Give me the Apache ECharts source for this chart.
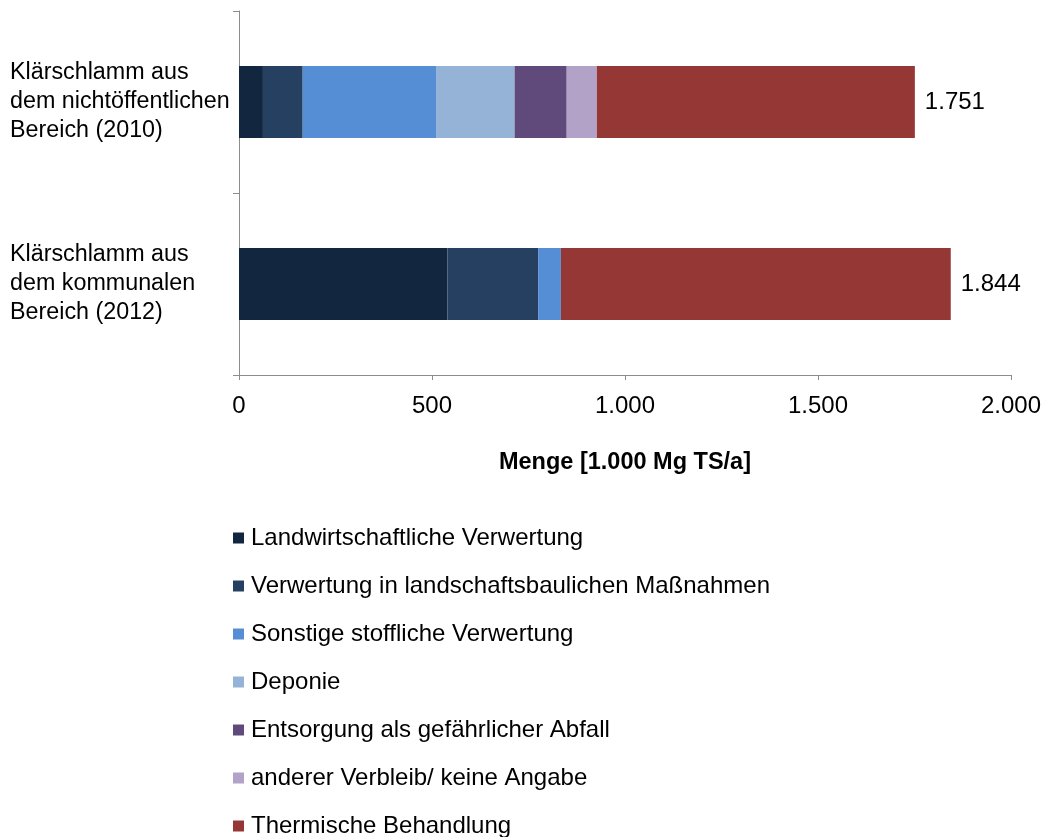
<!DOCTYPE html>
<html>
<head>
<meta charset="utf-8">
<script src="https://cdn.jsdelivr.net/npm/echarts@6/dist/echarts.min.js"></script>
<style>
  html, body { margin: 0; padding: 0; background: #ffffff; }
  #chart { width: 1044px; height: 837px; }
</style>
</head>
<body>
<div id="chart"></div>
<script>
// Kategorien (von unten nach oben, wie die y-Achse sie zeichnet)
const categories = [
  'Klärschlamm aus\ndem kommunalen\nBereich (2012)',
  'Klärschlamm aus\ndem nichtöffentlichen\nBereich (2010)'
]
const seriesNames = [
  'Landwirtschaftliche Verwertung',
  'Verwertung in landschaftsbaulichen Maßnahmen',
  'Sonstige stoffliche Verwertung',
  'Deponie',
  'Entsorgung als gefährlicher Abfall',
  'anderer Verbleib/ keine Angabe',
  'Thermische Behandlung'
]
// Werte [kommunal 2012, nichtöffentlich 2010] in 1.000 Mg TS/a
const landwirtschaft = [540, 62]
const landschaftsbau = [235, 103]
const sonstigeStofflich = [59, 347]
const deponie = [0, 202]
const gefaehrlich = [0, 135]
const andererVerbleib = [0, 78]
const thermisch = [1010, 824]
const totals = [1844, 1751]
const xTicks = [0, 500, 1000, 1500, 2000]

const colors = ['#12263F', '#254061', '#558ED5', '#95B3D7', '#604A7B', '#B3A2C7', '#953735']
const values = [landwirtschaft, landschaftsbau, sonstigeStofflich, deponie, gefaehrlich, andererVerbleib, thermisch]

// deutsches Zahlenformat mit Tausenderpunkt
function fmt (v) {
  return String(v).replace(/\B(?=(\d{3})+(?!\d))/g, '.')
}

const font = 'Liberation Sans, Arial, sans-serif'

const chart = echarts.init(document.getElementById('chart'))
chart.setOption({
  animation: false,
  color: colors,
  grid: {
    left: 239,
    right: 33,
    top: 11,
    bottom: 462,
    containLabel: false
  },
  xAxis: {
    type: 'value',
    min: xTicks[0],
    max: xTicks[xTicks.length - 1],
    interval: 500,
    name: 'Menge [1.000 Mg TS/a]',
    nameLocation: 'middle',
    nameGap: 76,
    nameTextStyle: { fontFamily: font, fontSize: 23.5, fontWeight: 'bold', color: '#000' },
    axisLine: { show: true, lineStyle: { color: '#8c8c8c', width: 1 } },
    axisTick: { show: true, length: 5, lineStyle: { color: '#8c8c8c' } },
    splitLine: { show: false },
    axisLabel: {
      fontFamily: font,
      fontSize: 24,
      color: '#000',
      margin: 19,
      formatter: function (v) { return fmt(v) }
    }
  },
  yAxis: {
    type: 'category',
    data: categories,
    axisLine: { show: true, lineStyle: { color: '#8c8c8c', width: 1 } },
    axisTick: { show: true, length: 6, lineStyle: { color: '#8c8c8c' } },
    axisLabel: {
      fontFamily: font,
      fontSize: 23.3,
      color: '#000',
      align: 'left',
      margin: 229,
      lineHeight: 29,
      padding: [10, 0, 0, 0]
    }
  },
  legend: {
    orient: 'vertical',
    left: 228,
    top: 520,
    height: 360,
    itemWidth: 11,
    itemHeight: 11,
    itemGap: 22,
    icon: 'rect',
    textStyle: { fontFamily: font, fontSize: 24, color: '#000', lineHeight: 26, padding: [0, 0, 0, 2] },
    data: seriesNames
  },
  series: seriesNames.map(function (name, i) {
    return {
      name: name,
      type: 'bar',
      stack: 'total',
      barWidth: 72,
      data: values[i],
      itemStyle: { color: colors[i] },
      label: i === seriesNames.length - 1 ? {
        show: true,
        position: 'right',
        distance: 10,
        fontFamily: font,
        fontSize: 24,
        color: '#000',
        formatter: function (p) { return fmt(totals[p.dataIndex]) }
      } : { show: false }
    }
  })
})
</script>
</body>
</html>
